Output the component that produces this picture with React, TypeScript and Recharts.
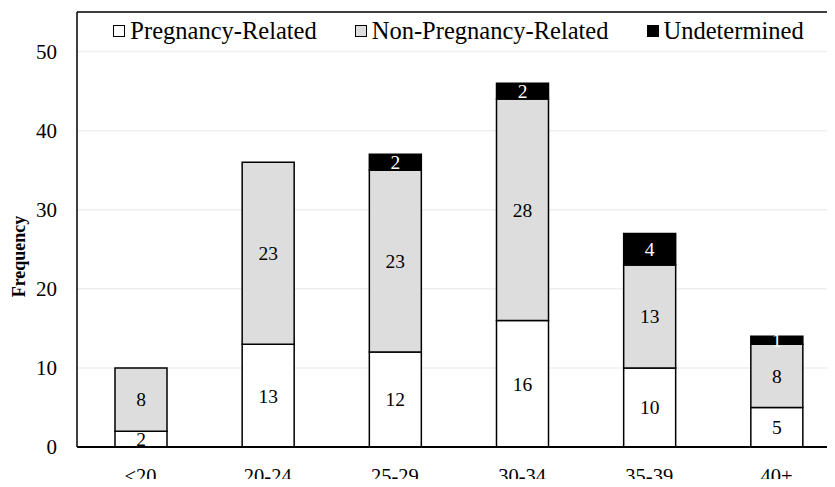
import { BarChart, Bar, XAxis, YAxis, CartesianGrid, Legend, LabelList, ReferenceLine } from "recharts";

const FONT = "'Liberation Serif', 'Times New Roman', serif";

// age groups
const categories = ["<20", "20-24", "25-29", "30-34", "35-39", "40+"];
const pregnancyRelated = [2, 13, 12, 16, 10, 5];
const nonPregnancyRelated = [8, 23, 23, 28, 13, 8];
const undetermined = [null, null, 2, 2, 4, 1];
const yTicks = [0, 10, 20, 30, 40, 50];
const seriesNames = ["Pregnancy-Related", "Non-Pregnancy-Related", "Undetermined"];

const data = categories.map((c, i) => ({
  age: c,
  preg: pregnancyRelated[i],
  nonPreg: nonPregnancyRelated[i],
  undet: undetermined[i],
}));

const LegendContent = ({ payload }: any) => {
  const items = [...(payload || [])].sort(
    (a: any, b: any) => seriesNames.indexOf(a.value) - seriesNames.indexOf(b.value)
  );
  return (
    <div
      style={{
        display: "flex",
        justifyContent: "center",
        alignItems: "center",
        fontFamily: FONT,
        fontSize: 24.5,
        color: "#000",
        lineHeight: "27px",
      }}
    >
      {items.map((entry: any, i: number) => (
        <div key={i} style={{ display: "flex", alignItems: "center", marginLeft: i === 0 ? 0 : 38 }}>
          <span
            style={{
              display: "inline-block",
              width: 12,
              height: 12,
              boxSizing: "border-box",
              border: "1.5px solid #000",
              background: entry.color,
              marginRight: 5,
            }}
          />
          <span>{entry.value}</span>
        </div>
      ))}
    </div>
  );
};

const FrequencyLabel = ({ viewBox }: any) => {
  if (!viewBox) return null;
  const cx = viewBox.x + 19;
  const cy = viewBox.y + viewBox.height / 2 + 27;
  return (
    <text
      x={cx}
      y={cy}
      transform={`rotate(-90 ${cx} ${cy})`}
      textAnchor="middle"
      dominantBaseline="central"
      fontFamily={FONT}
      fontWeight="bold"
      fontSize={18}
      fill="#000"
    >
      Frequency
    </text>
  );
};

export default function App() {
  return (
    <div style={{ margin: -8, width: 835, height: 487, overflow: "hidden", background: "#fff" }}>
      <BarChart
        width={845}
        height={487}
        data={data}
        margin={{ top: 12, right: 5, bottom: 0, left: 0 }}
        barSize={52}
      >
        <CartesianGrid vertical={false} stroke="#eeeeee" strokeWidth={1.5} />
        <XAxis
          dataKey="age"
          height={40}
          tickLine={false}
          tickSize={6}
          tickMargin={15}
          axisLine={{ stroke: "#000", strokeWidth: 2 }}
          tick={{ fill: "#000", fontSize: 20.5, fontFamily: FONT }}
        />
        <YAxis
          width={77}
          domain={[0, 55]}
          ticks={yTicks}
          tickLine={false}
          tickSize={6}
          tickMargin={14}
          axisLine={{ stroke: "#000", strokeWidth: 1.5 }}
          tick={{ fill: "#000", fontSize: 21, fontFamily: FONT }}
          label={<FrequencyLabel />}
        />
        <ReferenceLine y={55} stroke="#000" strokeWidth={1.5} />
        <Legend
          layout="horizontal"
          verticalAlign="middle"
          align="center"
          content={<LegendContent />}
          wrapperStyle={{ top: 17, left: 77, width: 763 }}
        />
        <Bar dataKey="preg" name="Pregnancy-Related" stackId="a" fill="#ffffff" stroke="#000" strokeWidth={1.5} isAnimationActive={false}>
          <LabelList dataKey="preg" position="center" fill="#000" fontSize={19.5} fontFamily={FONT} />
        </Bar>
        <Bar dataKey="nonPreg" name="Non-Pregnancy-Related" stackId="a" fill="#dddddd" stroke="#000" strokeWidth={1.5} isAnimationActive={false}>
          <LabelList dataKey="nonPreg" position="center" fill="#000" fontSize={19.5} fontFamily={FONT} />
        </Bar>
        <Bar dataKey="undet" name="Undetermined" stackId="a" fill="#000000" stroke="#000" strokeWidth={1.5} isAnimationActive={false}>
          <LabelList dataKey="undet" position="center" fill="#ffffff" fontSize={19.5} fontFamily={FONT} />
        </Bar>
      </BarChart>
    </div>
  );
}
